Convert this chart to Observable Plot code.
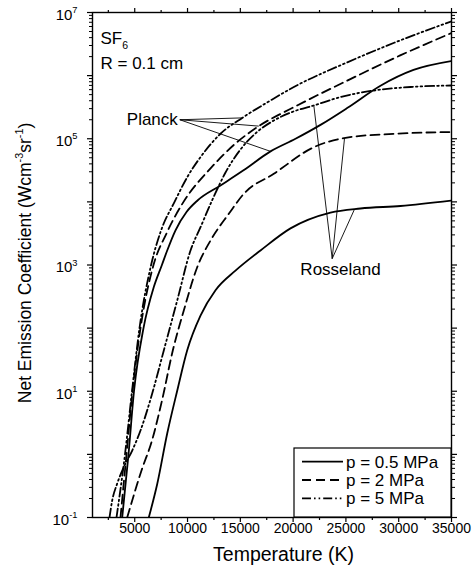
<!DOCTYPE html>
<html><head><meta charset="utf-8">
<script src="https://cdn.jsdelivr.net/npm/d3@7"></script>
<script src="https://cdn.jsdelivr.net/npm/@observablehq/plot@0.6"></script>
<style>
html,body{margin:0;padding:0;background:#fff;}
#chart{width:476px;height:573px;}
</style></head><body><div id="chart"></div>
<script>
// ---------- data (temperature K, net emission coefficient W cm^-3 sr^-1) ----------
const T_planck_05 = [3813, 4410, 4930, 5830, 6806, 7573, 8075, 8861, 9903, 10945, 13123, 15301, 17858, 20226, 22594, 25151, 28276, 31401, 35000];
const E_planck_05 = [0.1, 1, 10, 100, 447, 1000, 1698, 3548, 6918, 1.052e4, 1.82e4, 3.162e4, 6.31e4, 1.0e5, 1.66e5, 3.09e5, 6.92e5, 1.23e6, 1.70e6];

const T_planck_2 = [3650, 4220, 4788, 5546, 6777, 8008, 9619, 12176, 14544, 16750, 20065, 25122, 30142, 35000];
const E_planck_2 = [0.1, 1, 10, 100, 1000, 3162, 1.0e4, 3.39e4, 8.41e4, 1.585e5, 3.162e5, 8.32e5, 2.09e6, 4.73e6];

const T_planck_5 = [3273, 4078, 4741, 5451, 6550, 7500, 8770, 10000, 11230, 13120, 15180, 17500, 20070, 25120, 30170, 35000];
const E_planck_5 = [0.1, 1, 10, 100, 1000, 3548, 1.0e4, 2.51e4, 5.13e4, 1.2e5, 2.14e5, 3.72e5, 6.61e5, 1.62e6, 3.63e6, 7.24e6];

const T_ross_05 = [6330, 7130, 8075, 9022, 9970, 11228, 12650, 14540, 16910, 19750, 23540, 26380, 30170, 35000];
const E_ross_05 = [0.1, 0.339, 2.14, 10.2, 44.7, 158, 398, 813, 1698, 3802, 6761, 7852, 8610, 1.047e4];

const T_ross_2 = [4286, 5641, 6635, 7582, 8605, 9647, 10916, 12176, 13909, 15330, 18171, 21960, 24962, 29537, 35000];
const E_ross_2 = [0.1, 0.556, 1.66, 7.13, 44.2, 190, 923, 2443, 6471, 1.343e4, 2.786e4, 7.345e4, 1.035e5, 1.197e5, 1.279e5];

const T_ross_5 = [2610, 2866, 3339, 3964, 4760, 5546, 6654, 7753, 9022, 10282, 11229, 12365, 13596, 15017, 16532, 18171, 20037, 21960, 24488, 27642, 31118, 35000];
const E_ross_5 = [0.1, 0.186, 0.345, 0.627, 1.15, 2.39, 9.2, 44.3, 274, 1698, 3972, 1.091e4, 2.917e4, 6.761e4, 1.256e5, 1.945e5, 2.704e5, 3.365e5, 4.581e5, 5.808e5, 6.607e5, 6.982e5];

// tick values
const xMajorTicks = [5000, 10000, 15000, 20000, 25000, 30000, 35000];
const xMinorTicks = [2500, 7500, 12500, 17500, 22500, 27500, 32500];
const yDecades = [1e-1, 1e0, 1e1, 1e2, 1e3, 1e4, 1e5, 1e6, 1e7];
const yLabelled = [1e-1, 1e1, 1e3, 1e5, 1e7];
const yMinorTicks = d3.range(-1, 7).flatMap(k => d3.range(2, 10).map(m => m * Math.pow(10, k)));

// annotations (anchor in data coordinates, targets as temperatures on a curve)
const planckLabel = ["Planck"];
const planckAnchorT = 9270, planckAnchorE = 2.0e5;
const planckTargetT = [15180, 16750, 17858];
const rossLabel = ["Rosseland"];
const rossApexT = 23700, rossApexE = 1.26e3;
const rossTextT = 24490, rossTextE = 840;
const rossTargetT = [21960, 24870, 25810];

const legendLabels = ["p = 0.5 MPa", "p = 2 MPa", "p = 5 MPa"];

// ---------- helpers ----------
const FONT = '"Liberation Sans", Arial, Helvetica, sans-serif';
const DASH = "9,5";
const DASHDOT = "9,3,1.6,3,1.6,3";
const styles = [null, DASH, DASHDOT];
function series(Ts, Es){ return Ts.map((t, i) => ({T: t, E: Es[i]})); }
function interp(Ts, Es, t){
  for (let i = 0; i < Ts.length - 1; i++) {
    if (t >= Ts[i] && t <= Ts[i+1]) {
      const f = (t - Ts[i]) / (Ts[i+1] - Ts[i]);
      return Math.pow(10, Math.log10(Es[i]) + f * (Math.log10(Es[i+1]) - Math.log10(Es[i])));
    }
  }
  return Es[Es.length - 1];
}
const planckCurves = [[T_planck_5, E_planck_5], [T_planck_2, E_planck_2], [T_planck_05, E_planck_05]];
const rossCurves = [[T_ross_5, E_ross_5], [T_ross_2, E_ross_2], [T_ross_05, E_ross_05]];
const planckLinks = planckTargetT.map((t, i) => ({x1: planckAnchorT, y1: planckAnchorE, x2: t, y2: interp(planckCurves[i][0], planckCurves[i][1], t)}));
const rossLinks = rossTargetT.map((t, i) => ({x1: rossApexT, y1: rossApexE, x2: t, y2: interp(rossCurves[i][0], rossCurves[i][1], t)}));

const lineOpts = (dash) => ({x: "T", y: "E", stroke: "black", strokeWidth: 1.8, curve: "monotone-x", clip: true, strokeDasharray: dash || undefined});
const noLabel = () => "";

const plot = Plot.plot({
  width: 476, height: 573,
  marginLeft: 92, marginRight: 25, marginTop: 12, marginBottom: 56,
  style: {fontFamily: FONT, fontSize: "14px", background: "#fff", color: "#000", overflow: "visible"},
  x: {domain: [1000, 35000]},
  y: {type: "log", domain: [0.1, 1e7]},
  marks: [
    Plot.line(series(T_ross_05, E_ross_05), lineOpts(null)),
    Plot.line(series(T_ross_2, E_ross_2), lineOpts(DASH)),
    Plot.line(series(T_ross_5, E_ross_5), lineOpts(DASHDOT)),
    Plot.line(series(T_planck_05, E_planck_05), lineOpts(null)),
    Plot.line(series(T_planck_2, E_planck_2), lineOpts(DASH)),
    Plot.line(series(T_planck_5, E_planck_5), lineOpts(DASHDOT)),
    Plot.link(planckLinks, {x1: "x1", y1: "y1", x2: "x2", y2: "y2", stroke: "black", strokeWidth: 0.9}),
    Plot.link(rossLinks, {x1: "x1", y1: "y1", x2: "x2", y2: "y2", stroke: "black", strokeWidth: 0.9}),
    Plot.text(planckLabel, {x: () => planckAnchorT, y: () => planckAnchorE, text: d => d, textAnchor: "end", dx: -2, fontSize: 17}),
    Plot.text(rossLabel, {x: () => rossTextT, y: () => rossTextE, text: d => d, textAnchor: "middle", fontSize: 17}),
    Plot.text(["SF_{6}"], {text: d => d, frameAnchor: "top-left", dx: 8, dy: 19, textAnchor: "start", fontSize: 17}),
    Plot.text(["R = 0.1 cm"], {text: d => d, frameAnchor: "top-left", dx: 8, dy: 44.5, textAnchor: "start", fontSize: 17}),
    Plot.text(["Net Emission Coefficient (Wcm^{-3}sr^{-1})"], {text: d => d, frameAnchor: "left", dx: -67.5, dy: -2, rotate: -90, textAnchor: "middle", fontSize: 17.5}),
    Plot.text(["Temperature (K)"], {text: d => d, frameAnchor: "bottom", dx: 11.5, dy: 43.5, textAnchor: "middle", fontSize: 19.5}),
    Plot.axisX({anchor: "bottom", ticks: xMajorTicks, tickSize: 5, tickPadding: 1, tickFormat: d => String(d), fontSize: 14, label: null, strokeWidth: 1.2}),
    Plot.axisX({anchor: "bottom", ticks: xMinorTicks, tickSize: 3, tickFormat: noLabel, label: null, strokeWidth: 1.2}),
    Plot.axisX({anchor: "top", ticks: xMajorTicks, tickSize: 5, tickFormat: noLabel, label: null, strokeWidth: 1.2}),
    Plot.axisX({anchor: "top", ticks: xMinorTicks, tickSize: 3, tickFormat: noLabel, label: null, strokeWidth: 1.2}),
    Plot.axisY({anchor: "left", ticks: yLabelled, tickSize: 0, tickPadding: 15, dy: 2.5, tickFormat: d => "10^{" + Math.round(Math.log10(d)) + "}", fontSize: 15, label: null}),
    Plot.axisY({anchor: "left", ticks: yDecades, tickSize: 5, tickFormat: noLabel, label: null, strokeWidth: 1.2}),
    Plot.axisY({anchor: "left", ticks: yMinorTicks, tickSize: 3, tickFormat: noLabel, label: null, strokeWidth: 1}),
    Plot.axisY({anchor: "right", ticks: yDecades, tickSize: 5, tickFormat: noLabel, label: null, strokeWidth: 1.2}),
    Plot.axisY({anchor: "right", ticks: yMinorTicks, tickSize: 3, tickFormat: noLabel, label: null, strokeWidth: 1}),
    Plot.frame({stroke: "black", strokeWidth: 1.4})
  ]
});
document.getElementById("chart").appendChild(plot);

// ---------- rich text: ^{sup} and _{sub} ----------
const NS = "http://www.w3.org/2000/svg";
plot.querySelectorAll("text").forEach(el => {
  const s = el.textContent;
  if (!/[\^_]\{/.test(s)) return;
  const fs = parseFloat(getComputedStyle(el).fontSize) || 14;
  const parts = [];
  const re = /([\^_])\{([^}]*)\}/g;
  let last = 0, m;
  while ((m = re.exec(s))) {
    if (m.index > last) parts.push({t: "n", s: s.slice(last, m.index)});
    parts.push({t: m[1] === "^" ? "sup" : "sub", s: m[2]});
    last = re.lastIndex;
  }
  if (last < s.length) parts.push({t: "n", s: s.slice(last)});
  el.textContent = "";
  let shift = 0;
  parts.forEach(p => {
    const ts = document.createElementNS(NS, "tspan");
    const target = p.t === "sup" ? -0.45 * fs : p.t === "sub" ? 0.32 * fs : 0;
    ts.setAttribute("dy", (target - shift).toFixed(2));
    shift = target;
    if (p.t !== "n") ts.setAttribute("font-size", (fs * 0.62).toFixed(1));
    ts.textContent = p.s;
    el.appendChild(ts);
  });
});

// ---------- legend (inside the frame, bottom-right) ----------
const xr = plot.scale("x").range, yr = plot.scale("y").range;
const right = Math.max(...xr), bottom = Math.max(...yr);
const lw = 157, lh = 69;
const g = d3.select(plot).append("g").attr("font-family", FONT).attr("font-size", 17).attr("text-anchor", "start");
g.append("rect").attr("x", right - lw).attr("y", bottom - lh).attr("width", lw).attr("height", lh)
  .attr("fill", "white").attr("stroke", "black").attr("stroke-width", 1.2);
legendLabels.forEach((lab, i) => {
  const y = bottom - lh + 13.7 + i * 18.3;
  g.append("line").attr("x1", right - lw + 8).attr("x2", right - lw + 49).attr("y1", y).attr("y2", y)
    .attr("stroke", "black").attr("stroke-width", 1.8).attr("stroke-dasharray", styles[i]);
  g.append("text").attr("x", right - lw + 52).attr("y", y).attr("dy", "0.36em").attr("text-anchor", "start").text(lab);
});
</script></body></html>
